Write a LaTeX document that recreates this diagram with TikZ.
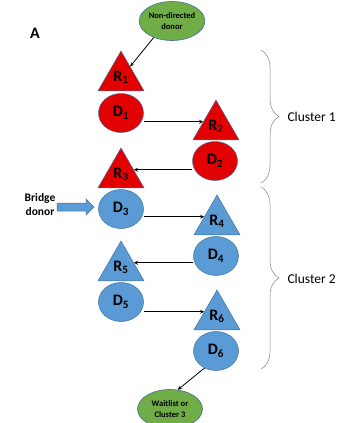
\documentclass[tikz,border=0pt]{standalone}
\usepackage{fontspec}
\setmainfont{Carlito}
\usepackage{tikz}
\usetikzlibrary{arrows,shapes,shapes.geometric,calc,decorations.pathreplacing}

\definecolor{redF}{HTML}{E30000}
\definecolor{blueF}{HTML}{5B9BD5}
\definecolor{greenF}{HTML}{70AD47}
\definecolor{edgeB}{HTML}{41719C}

\tikzset{
  recip/.style={regular polygon, regular polygon sides=3, minimum size=53pt,
    inner sep=0pt, draw=edgeB, line width=0.5pt, font=\fontsize{16}{16}\selectfont\bfseries},
  donor/.style={ellipse, minimum width=45pt, minimum height=39pt,
    inner sep=0pt, draw=edgeB, line width=0.5pt, font=\fontsize{16}{16}\selectfont\bfseries},
  endpt/.style={ellipse, fill=greenF, draw=edgeB, line width=0.6pt,
    minimum width=65pt, minimum height=39pt, inner sep=0pt, align=center,
    font=\fontsize{8.5}{11}\selectfont\bfseries},
  link/.style={-stealth, line width=0.8pt},
  clbrace/.style={gray, line width=0.5pt, decorate, decoration={brace, amplitude=18pt}}
}

\begin{document}
\begin{tikzpicture}[x=1pt,y=-1pt]
\useasboundingbox (0,0) rectangle (339,423);

\node[font=\fontsize{16}{16}\selectfont\bfseries] (lblA) at (35,33) {A};

% entry and exit of the chain
\node[endpt] (nd) at (172,21) {Non-directed\\donor};
\node[endpt] (wl) at (170,409) {Waitlist or\\Cluster 3};

% cluster 1 (red)
\node[recip, fill=redF] (R1) at (121,77.5) {R\textsubscript{1}};
\node[donor, fill=redF] (D1) at (121,113) {D\textsubscript{1}};
\node[recip, fill=redF] (R2) at (216,126.5) {R\textsubscript{2}};
\node[donor, fill=redF] (D2) at (215,161) {D\textsubscript{2}};
\node[recip, fill=redF] (R3) at (121,174.5) {R\textsubscript{3}};

% cluster 2 (blue)
\node[donor, fill=blueF] (D3) at (121,209) {D\textsubscript{3}};
\node[recip, fill=blueF] (R4) at (217,221.5) {R\textsubscript{4}};
\node[donor, fill=blueF] (D4) at (216,256) {D\textsubscript{4}};
\node[recip, fill=blueF] (R5) at (121,267.5) {R\textsubscript{5}};
\node[donor, fill=blueF] (D5) at (121,302) {D\textsubscript{5}};
\node[recip, fill=blueF] (R6) at (217,316.5) {R\textsubscript{6}};
\node[donor, fill=blueF] (D6) at (216,351) {D\textsubscript{6}};

% bridge donor coming in, with its block arrow
\node[align=center, font=\fontsize{11.5}{14}\selectfont\bfseries] (bd) at (40,205) {Bridge\\donor};
\draw[fill=blueF, draw=edgeB, line width=0.5pt]
  (57,203) -- (86,203) -- (86,199) -- (94,207) -- (86,215) -- (86,211) -- (57,211) -- cycle;

% where the arrows hit the triangles
\coordinate (t2) at ($(R2.corner 1)!0.55!(R2.corner 2)$);
\coordinate (t3) at ($(R3.corner 1)!0.55!(R3.corner 3)$);
\coordinate (t4) at ($(R4.corner 1)!0.55!(R4.corner 2)$);
\coordinate (t5) at ($(R5.corner 1)!0.55!(R5.corner 3)$);
\coordinate (t6) at ($(R6.corner 1)!0.55!(R6.corner 2)$);

\draw[link] (nd.222) -- (R1.50);
\draw[link] (D1.east |- t2) -- (t2);
\draw[link] (D2.west |- t3) -- (t3);
\draw[link] (D3.east |- t4) -- (t4);
\draw[link] (D4.west |- t5) -- (t5);
\draw[link] (D5.east |- t6) -- (t6);
\draw[link] (D6.236) -- (wl.68);

% cluster braces
\coordinate (c1top) at (261,50);
\coordinate (c1bot) at (261,183);
\coordinate (c2top) at (261,187);
\coordinate (c2bot) at (261,369);
\draw[clbrace] (c1top) -- (c1bot);
\draw[clbrace] (c2top) -- (c2bot);
\node[anchor=west, font=\fontsize{13.5}{13.5}\selectfont] (cl1) at (284,117) {Cluster 1};
\node[anchor=west, font=\fontsize{13.5}{13.5}\selectfont] (cl2) at (284,279) {Cluster 2};
\end{tikzpicture}
\end{document}
